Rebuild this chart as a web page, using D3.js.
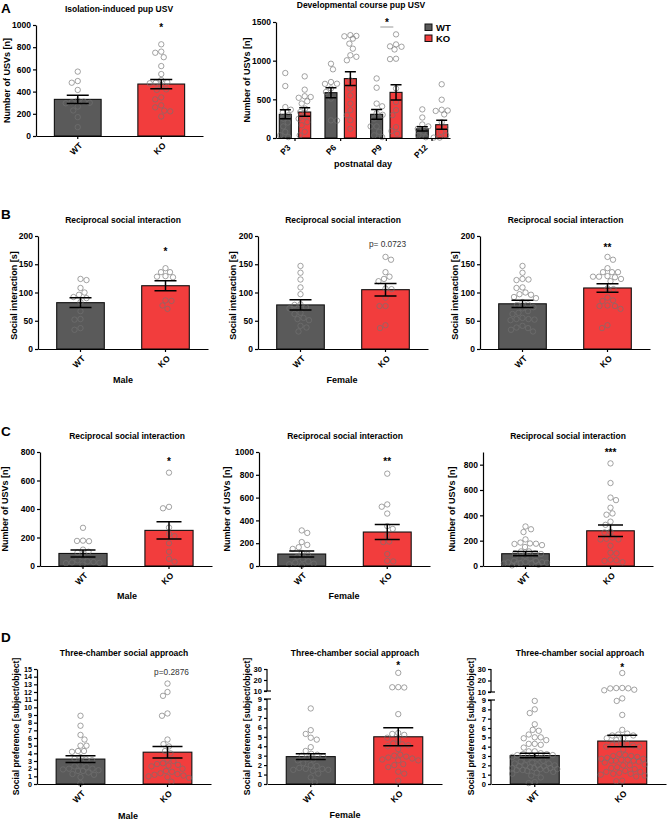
<!DOCTYPE html>
<html><head><meta charset="utf-8">
<script src="https://cdn.jsdelivr.net/npm/d3@7"></script>
<style>
body{margin:0;background:#fff;}
svg{display:block;font-family:"Liberation Sans",Arial,sans-serif;}
</style></head><body>
<svg id="c" width="668" height="821"></svg>
<script>
// ---------- DATA ----------
const groups = ["WT", "KO"];

// A: isolation-induced pup USV
const isoWT = [580, 495, 480, 415, 320, 310, 305, 300, 295, 265, 230, 170, 80];
const isoKO = [826, 760, 750, 710, 630, 558, 504, 485, 480, 475, 450, 420, 415, 348, 330, 276, 258, 228, 222, 176];
const isoMean = [330, 468];
const isoSem = [38, 42];
const isoTicks = [0, 200, 400, 600, 800, 1000];

// A: developmental course
const days = ["P3", "P6", "P9", "P12"];
const devWT = [
  [840, 672, 400, 366, 330, 295, 250, 200, 150, 78, 35, 12],
  [960, 888, 724, 702, 700, 640, 595, 510, 228, 225],
  [770, 650, 445, 410, 320, 300, 250, 150, 150, 80, 35, 12],
  [370, 265, 175, 150, 120, 80, 35, 10]
];
const devKO = [
  [797, 625, 540, 530, 520, 475, 445, 380, 335, 275, 250, 205, 165, 80, 35],
  [1330, 1320, 1315, 1285, 1220, 1155, 1070, 1050, 1005, 745, 640, 550, 445, 360, 295, 230, 120],
  [1340, 1210, 1185, 1180, 1145, 1025, 1020, 640, 465, 360, 295, 140, 90, 55],
  [695, 495, 365, 355, 350, 305, 205, 140, 80, 35, 5, 5]
];
const devMeanWT = [306, 586, 306, 118];
const devSemWT = [58, 65, 62, 28];
const devMeanKO = [336, 768, 590, 172];
const devSemKO = [56, 88, 100, 58];
const devTicks = [0, 500, 1000, 1500];

// B: reciprocal social interaction time [s]
const rsiMaleWT = [124, 122, 108, 100, 96, 92, 90, 83, 67, 53, 52, 37, 34];
const rsiMaleKO = [143, 136, 136, 129, 128, 127, 86, 85, 77, 71];
const rsiFemaleWT = [147, 135, 123, 109, 97, 79, 78, 74, 72, 64, 62, 55, 53, 51, 41, 38, 31];
const rsiFemaleKO = [163, 158, 136, 128, 124, 120, 107, 106, 91, 76, 76, 42, 37];
const rsiMaleMean = [82, 112], rsiMaleSem = [8.5, 9];
const rsiFemaleMean = [78, 105], rsiFemaleSem = [9, 11];
const rsiAllMean = [80, 108], rsiAllSem = [6.5, 7.5];
const rsiTicks = [0, 50, 100, 150, 200];

// C: USVs during reciprocal social interaction
const usvMaleWT = [268, 178, 176, 174, 115, 100, 95, 60, 40, 32, 28, 25, 22, 20, 10];
const usvMaleKO = [655, 415, 405, 270, 225, 210, 160, 100, 50, 30];
const usvFemaleWT = [312, 290, 210, 185, 165, 150, 115, 100, 80, 60, 40, 30, 20, 15, 5];
const usvFemaleKO = [810, 540, 520, 460, 350, 325, 265, 215, 210, 105, 45, 40];
const usvMaleMean = [88, 250], usvMaleSem = [25, 60];
const usvFemaleMean = [105, 298], usvFemaleSem = [27, 65];
const usvAllMean = [97, 278], usvAllSem = [17, 45];
const usvMaleTicks = [0, 200, 400, 600, 800];
const usvFemaleTicks = [0, 200, 400, 600, 800, 1000];
const usvAllTicks = [0, 200, 400, 600, 800];

// D: three-chamber social preference
const tcsMaleWT = [8.9, 7.6, 6.4, 5.8, 5.0, 5.0, 4.3, 4.3, 4.2, 3.5, 3.3, 3.2, 3.1, 2.4, 2.3, 2.2, 2.0, 2.0, 1.9, 1.8, 1.7, 1.7, 1.5, 1.3, 1.2, 0.9, 0.1];
const tcsMaleKO = [13.1, 12.0, 11.5, 9.2, 8.9, 5.8, 5.2, 4.9, 4.3, 4.0, 3.2, 3.0, 2.7, 2.6, 2.5, 2.4, 2.3, 2.0, 1.7, 1.6, 1.4, 1.3, 1.2, 1.1, 1.0, 0.9, 0.8, 0.3];
const tcsFemaleWT = [8.0, 5.7, 5.3, 4.9, 4.7, 3.9, 3.5, 3.2, 3.1, 3.0, 2.9, 2.7, 2.6, 2.5, 2.2, 2.0, 1.9, 1.7, 1.6, 1.6, 1.5, 1.5, 1.4, 1.1, 0.7, 0.2];
const tcsFemaleKO = [26.5, 13.5, 13.2, 13.4, 7.4, 5.4, 5.3, 5.2, 4.9, 4.7, 4.3, 4.2, 4.1, 4.0, 3.7, 3.1, 3.0, 2.9, 2.8, 2.7, 2.6, 2.5, 2.5, 2.1, 2.0, 1.8, 1.3, 1.1, 0.35];
const tcsMaleMean = [3.25, 4.15], tcsMaleSem = [0.45, 0.75];
const tcsFemaleMean = [2.9, 5.0], tcsFemaleSem = [0.3, 0.95];
const tcsAllMean = [3.05, 4.6], tcsAllSem = [0.25, 0.62];
const tcsMaleTicks = d3.range(0, 16);
const tcsBrokenTicks = [0, 1, 2, 3, 4, 5, 6, 7, 8, 9, 10, 20, 30];

// ---------- STYLE ----------
const colors = { WT: "#5a5a5a", KO: "#f23d3d" };
const R = 2.7;
const svg = d3.select("#c");

function swarm(vals, y, cx, maxOff) {
  const minD = 2 * R + 0.5;
  const items = vals.map(v => ({ v, y: y(v) })).sort((a, b) => a.y - b.y);
  const placed = [];
  items.forEach((it, idx) => {
    let chosen = null, bestScore = -1, bestOff = 0;
    for (let s = 0; s <= maxOff + 1e-9; s += 0.5) {
      const cands = s === 0 ? [0] : (idx % 2 ? [s, -s] : [-s, s]);
      for (const off of cands) {
        let md = Infinity;
        for (const p of placed) {
          const dd = Math.hypot(p.x - (cx + off), p.y - it.y);
          if (dd < md) md = dd;
        }
        if (md >= minD) { chosen = off; break; }
        if (md > bestScore) { bestScore = md; bestOff = off; }
      }
      if (chosen !== null) break;
    }
    it.x = cx + (chosen !== null ? chosen : bestOff);
    placed.push(it);
  });
  return items;
}

function drawPoints(g, pts) {
  g.selectAll(null).data(pts).enter().append("circle")
    .attr("cx", d => d.x).attr("cy", d => d.y).attr("r", R)
    .attr("fill", "none").attr("stroke", "#727272").attr("stroke-opacity", 0.72).attr("stroke-width", 0.9);
}

function errBar(g, cx, yt, yb, hw) {
  g.append("path").attr("d", `M${cx},${yt}V${yb}M${cx - hw},${yt}H${cx + hw}M${cx - hw},${yb}H${cx + hw}`)
    .attr("stroke", "#000").attr("stroke-width", 1.5).attr("fill", "none");
}

function styleAxis(sel, fs) {
  sel.selectAll("path, line").attr("stroke", "#000").attr("stroke-width", 1.2);
  sel.selectAll("text").attr("font-size", fs).attr("font-weight", "bold").attr("fill", "#000")
    .attr("font-family", "Liberation Sans, Arial, sans-serif");
}

function text(g, x, y, t, o = {}) {
  return g.append("text").attr("x", x).attr("y", y).text(t)
    .attr("text-anchor", o.anchor || "middle")
    .attr("font-size", o.fs || 8.5)
    .attr("font-weight", o.weight || "bold")
    .attr("fill", o.fill || "#000");
}

function yLabel(g, x, y, t, fs) {
  g.append("text").attr("transform", `translate(${x},${y}) rotate(-90)`).attr("dy", "0.35em")
    .attr("text-anchor", "middle").attr("font-size", fs || 9).attr("font-weight", "bold").text(t);
}

function drawPanel(c) {
  const g = svg.append("g");
  const y = d3.scaleLinear().domain(c.domain).range(c.range);
  const x = d3.scaleBand().domain(groups).range([c.ax, c.right]).paddingInner(0.44).paddingOuter(0.22);
  const bw = x.bandwidth();
  const y0 = y(0);
  groups.forEach((k, i) => {
    g.append("rect").attr("x", x(k)).attr("y", y(c.mean[i])).attr("width", bw).attr("height", y0 - y(c.mean[i]))
      .attr("fill", colors[k]).attr("stroke", "#111").attr("stroke-width", 1.1);
  });
  groups.forEach((k, i) => {
    drawPoints(g, swarm(c.points[i], y, x(k) + bw / 2, bw * 0.46));
  });
  groups.forEach((k, i) => {
    const m = c.mean[i], s = c.sem[i];
    errBar(g, x(k) + bw / 2, y(m + s), y(m - s), c.cap / 2);
  });
  // y axis
  const ya = g.append("g").attr("transform", `translate(${c.ax},0)`)
    .call(d3.axisLeft(y).tickValues(c.ticks).tickSize(3).tickSizeOuter(0).tickPadding(2).tickFormat(d3.format("d")));
  styleAxis(ya, c.tfs || 8.5);
  if (c.broken) {
    ya.select(".domain").remove();
    const segs = [[0, 9], [10, 30]];
    segs.forEach(s => {
      ya.append("line").attr("x1", 0).attr("x2", 0).attr("y1", y(s[0])).attr("y2", y(s[1]))
        .attr("stroke", "#000").attr("stroke-width", 1.2);
    });
    [9, 10].forEach(v => {
      ya.append("line").attr("x1", -3).attr("x2", 4).attr("y1", y(v)).attr("y2", y(v))
        .attr("stroke", "#000").attr("stroke-width", 1.2);
    });
  }
  // x axis
  const xa = g.append("g").attr("transform", `translate(0,${y0})`)
    .call(d3.axisBottom(x).tickSize(3).tickSizeOuter(0).tickFormat(""));
  styleAxis(xa, 8.5);
  groups.forEach(k => {
    g.append("text").attr("transform", `translate(${x(k) + bw / 2 + 3},${y0 + 8}) rotate(-45)`)
      .attr("dy", "0.35em").attr("text-anchor", "end").attr("font-size", 8.5).attr("font-weight", "bold").text(k);
  });
  // title, labels
  text(g, c.titleX, c.titleY, c.title, { fs: 8.5 });
  yLabel(g, c.ylabX, (c.range[0] + c.range[c.range.length - 1]) / 2 + (c.ylabDy || 0), c.ylab, c.ylfs || 9);
  if (c.sub) text(g, c.sub.x, c.sub.y, c.sub.t, { fs: 9 });
  if (c.annot) {
    const kx = x("KO") + bw / 2 + (c.annot.dx || 0);
    text(g, kx, c.annot.y, c.annot.t, c.annot.p ? { fs: 8.3, weight: "normal", fill: "#333" } : { fs: 10 });
  }
}

// ---------- A: isolation ----------
drawPanel({ ax: 36, right: 203, domain: [0, 1000], range: [136, 25], ticks: isoTicks,
  mean: isoMean, sem: isoSem, points: [isoWT, isoKO], cap: 22,
  title: "Isolation-induced pup USV", titleX: 119, titleY: 11.5,
  ylab: "Number of USVs [n]", ylabX: 7, annot: { t: "*", y: 30.5 } });

// ---------- A: developmental ----------
(function () {
  const g = svg.append("g");
  const ax = 276, right = 450;
  const y = d3.scaleLinear().domain([0, 1500]).range([138, 22]);
  const x0 = d3.scalePoint().domain(days).range([295, 432]);
  const x1 = d3.scalePoint().domain(groups).range([-9.7, 9.7]);
  const bw = 12;
  const y0 = y(0);
  const series = { WT: { pts: devWT, m: devMeanWT, s: devSemWT }, KO: { pts: devKO, m: devMeanKO, s: devSemKO } };
  days.forEach((d, i) => groups.forEach(k => {
    const cx = x0(d) + x1(k), m = series[k].m[i];
    g.append("rect").attr("x", cx - bw / 2).attr("y", y(m)).attr("width", bw).attr("height", y0 - y(m))
      .attr("fill", colors[k]).attr("stroke", "#111").attr("stroke-width", 1.1);
  }));
  days.forEach((d, i) => groups.forEach(k => {
    drawPoints(g, swarm(series[k].pts[i], y, x0(d) + x1(k), 8));
  }));
  days.forEach((d, i) => groups.forEach(k => {
    const cx = x0(d) + x1(k), m = series[k].m[i], s = series[k].s[i];
    errBar(g, cx, y(m + s), y(m - s), 5.5);
  }));
  const ya = g.append("g").attr("transform", `translate(${ax},0)`)
    .call(d3.axisLeft(y).tickValues(devTicks).tickSize(3).tickSizeOuter(0).tickPadding(2).tickFormat(d3.format("d")));
  styleAxis(ya, 8.5);
  const xs = d3.scaleLinear().domain([0, 1]).range([ax, right]);
  const xa = g.append("g").attr("transform", `translate(0,${y0})`)
    .call(d3.axisBottom(xs).tickValues([]).tickSizeOuter(0));
  styleAxis(xa, 8.5);
  days.forEach(d => {
    g.append("line").attr("x1", x0(d)).attr("x2", x0(d)).attr("y1", y0).attr("y2", y0 + 3)
      .attr("stroke", "#000").attr("stroke-width", 1.2);
    g.append("text").attr("transform", `translate(${x0(d) - 6},${y0 + 8}) rotate(-45)`)
      .attr("dy", "0.35em").attr("text-anchor", "end").attr("font-size", 8.5).attr("font-weight", "bold").text(d);
  });
  text(g, 361, 7.5, "Developmental course pup USV", { fs: 8.5 });
  yLabel(g, 247, 80, "Number of USVs [n]", 9);
  text(g, 363, 167, "postnatal day", { fs: 9 });
  // legend
  groups.forEach((k, i) => {
    g.append("rect").attr("x", 425).attr("y", 24 + i * 11).attr("width", 7).attr("height", 6.5)
      .attr("fill", colors[k]).attr("stroke", "#111").attr("stroke-width", 1);
    text(g, 436, 30.5 + i * 11, k, { fs: 9.5, anchor: "start" });
  });
  // significance at P9
  const p9 = x0("P9");
  g.append("line").attr("x1", p9 - 6).attr("x2", p9 + 7).attr("y1", 27).attr("y2", 27)
    .attr("stroke", "#999").attr("stroke-width", 1);
  text(g, p9 + 0.5, 25.5, "*", { fs: 10 });
})();

// ---------- B ----------
const rsiLab = "Social interaction [s]";
const rsiTitle = "Reciprocal social interaction";
drawPanel({ ax: 38, right: 208, domain: [0, 200], range: [349, 236], ticks: rsiTicks,
  mean: rsiMaleMean, sem: rsiMaleSem, points: [rsiMaleWT, rsiMaleKO], cap: 22,
  title: rsiTitle, titleX: 123, titleY: 223, ylab: rsiLab, ylabX: 13.5, ylabDy: 3,
  annot: { t: "*", y: 255 }, sub: { t: "Male", x: 123, y: 383 } });
drawPanel({ ax: 258, right: 428, domain: [0, 200], range: [349, 236], ticks: rsiTicks,
  mean: rsiFemaleMean, sem: rsiFemaleSem, points: [rsiFemaleWT, rsiFemaleKO], cap: 22,
  title: rsiTitle, titleX: 343, titleY: 223, ylab: rsiLab, ylabX: 233, ylabDy: 3,
  annot: { t: "p= 0.0723", y: 246.5, p: true, dx: 2 }, sub: { t: "Female", x: 342, y: 383 } });
drawPanel({ ax: 480, right: 650, domain: [0, 200], range: [349, 236], ticks: rsiTicks,
  mean: rsiAllMean, sem: rsiAllSem, points: [rsiMaleWT.concat(rsiFemaleWT), rsiMaleKO.concat(rsiFemaleKO)], cap: 22,
  title: rsiTitle, titleX: 565.5, titleY: 223, ylab: rsiLab, ylabX: 455, ylabDy: 3,
  annot: { t: "**", y: 251 } });

// ---------- C ----------
const usvLab = "Number of USVs [n]";
drawPanel({ ax: 40, right: 212, domain: [0, 800], range: [566, 452], ticks: usvMaleTicks,
  mean: usvMaleMean, sem: usvMaleSem, points: [usvMaleWT, usvMaleKO], cap: 25,
  title: rsiTitle, titleX: 127, titleY: 439, ylab: usvLab, ylabX: 5,
  annot: { t: "*", y: 464.5 }, sub: { t: "Male", x: 127, y: 599 } });
drawPanel({ ax: 259, right: 430, domain: [0, 1000], range: [566, 452], ticks: usvFemaleTicks,
  mean: usvFemaleMean, sem: usvFemaleSem, points: [usvFemaleWT, usvFemaleKO], cap: 25,
  title: rsiTitle, titleX: 345, titleY: 439, ylab: usvLab, ylabX: 227,
  annot: { t: "**", y: 464.5 }, sub: { t: "Female", x: 344, y: 599 } });
drawPanel({ ax: 483, right: 653, domain: [0, 900], range: [566, 452], ticks: usvAllTicks,
  mean: usvAllMean, sem: usvAllSem, points: [usvMaleWT.concat(usvFemaleWT), usvMaleKO.concat(usvFemaleKO)], cap: 25,
  title: rsiTitle, titleX: 568, titleY: 439, ylab: usvLab, ylabX: 452,
  annot: { t: "***", y: 456 } });

// ---------- D ----------
const tcsLab = "Social preference [subject/object]";
const tcsTitle = "Three-chamber social approach";
drawPanel({ ax: 37, right: 211, domain: [0, 15], range: [784, 669], ticks: tcsMaleTicks, tfs: 7.2,
  mean: tcsMaleMean, sem: tcsMaleSem, points: [tcsMaleWT, tcsMaleKO], cap: 30,
  title: tcsTitle, titleX: 124, titleY: 656, ylab: tcsLab, ylabX: 15.5, ylfs: 8.6,
  annot: { t: "p=0.2876", y: 675, p: true, dx: 4 }, sub: { t: "Male", x: 128, y: 819 } });
drawPanel({ ax: 267, right: 442, domain: [0, 9, 10, 30], range: [784, 699, 691, 669], ticks: tcsBrokenTicks, tfs: 7.6, broken: true,
  mean: tcsFemaleMean, sem: tcsFemaleSem, points: [tcsFemaleWT, tcsFemaleKO], cap: 30,
  title: tcsTitle, titleX: 355, titleY: 656, ylab: tcsLab, ylabX: 246.5, ylfs: 8.6,
  annot: { t: "*", y: 668.5 }, sub: { t: "Female", x: 345, y: 818 } });
drawPanel({ ax: 491, right: 666, domain: [0, 9, 10, 30], range: [784, 700, 692, 669], ticks: tcsBrokenTicks, tfs: 7.6, broken: true,
  mean: tcsAllMean, sem: tcsAllSem, points: [tcsMaleWT.concat(tcsFemaleWT), tcsMaleKO.concat(tcsFemaleKO)], cap: 30,
  title: tcsTitle, titleX: 580, titleY: 656, ylab: tcsLab, ylabX: 471, ylfs: 8.6,
  annot: { t: "*", y: 670.5 } });

// panel letters
[["A", 12.7], ["B", 219], ["C", 436], ["D", 642]].forEach(([t, yy]) => {
  text(svg, 1, yy, t, { fs: 13.5, anchor: "start" });
});
</script>
</body></html>
